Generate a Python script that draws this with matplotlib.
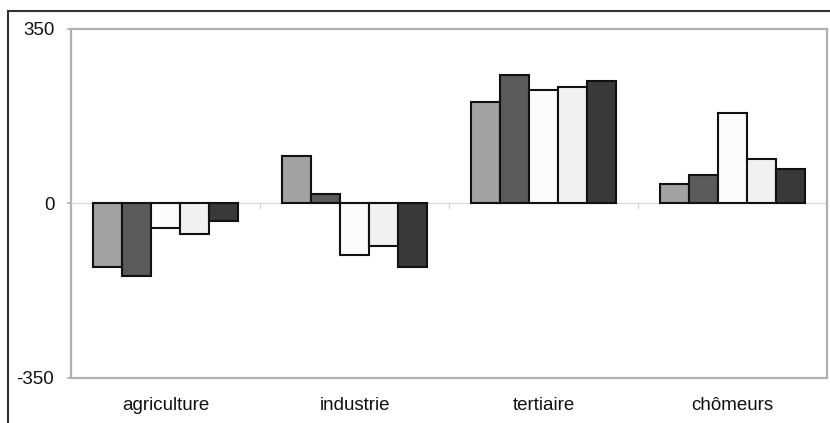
import matplotlib
matplotlib.use("Agg")
import matplotlib.pyplot as plt
import numpy as np
from matplotlib.lines import Line2D

plt.rcParams['font.family'] = ['Liberation Sans', 'DejaVu Sans']

categories = ["agriculture", "industrie", "tertiaire", "chômeurs"]
series_1 = [-127, 96, 204, 39]
series_2 = [-146, 20, 258, 57]
series_3 = [-49, -104, 228, 181]
series_4 = [-62, -85, 233, 89]
series_5 = [-35, -127, 246, 69]
y_ticks = [-350, 0, 350]

series = [series_1, series_2, series_3, series_4, series_5]
colors = ["#a2a2a2", "#5a5a5a", "#fcfcfc", "#f1f1f1", "#393939"]

fig = plt.figure(figsize=(8.30, 4.23), dpi=100)
ax = fig.add_axes([71 / 830, 1 - 378 / 423, 756 / 830, 349 / 423])

x = np.arange(len(categories))
group = 0.767
w = group / len(series)
for i, (vals, c) in enumerate(zip(series, colors)):
    offs = -group / 2 + w * (i + 0.5)
    ax.bar(x + offs, vals, width=w, color=c, edgecolor="#111111",
           linewidth=1.5, zorder=3)

ax.set_xlim(-0.5, len(categories) - 0.5)
ax.set_ylim(-350, 350)
ax.axhline(0, color="#d8d8d8", linewidth=0.8, zorder=1)
for b in np.arange(0.5, len(categories) - 0.5, 1.0):
    ax.plot([b, b], [0, -10], color="#cfcfcf", linewidth=0.8, zorder=1)

ax.set_yticks(y_ticks)
ax.set_yticklabels([str(v) for v in y_ticks], fontsize=13.5, color="#111111")
ax.tick_params(axis="y", length=3, color="#b0b0b0", width=1.2, pad=9)
ax.set_xticks(x)
ax.set_xticklabels(categories, fontsize=13.5, color="#111111")
ax.tick_params(axis="x", length=0, pad=14)

for s in ax.spines.values():
    s.set_color("#b0b0b0")
    s.set_linewidth(1.6)

# outer frame (top and left edges)
fig.add_artist(Line2D([8 / 830, 8 / 830], [0, 1 - 11 / 423],
                      transform=fig.transFigure, color="#333333", linewidth=1.5))
fig.add_artist(Line2D([8 / 830, 1], [1 - 11 / 423, 1 - 11 / 423],
                      transform=fig.transFigure, color="#333333", linewidth=1.5))

fig.savefig("out.png", dpi=100)
